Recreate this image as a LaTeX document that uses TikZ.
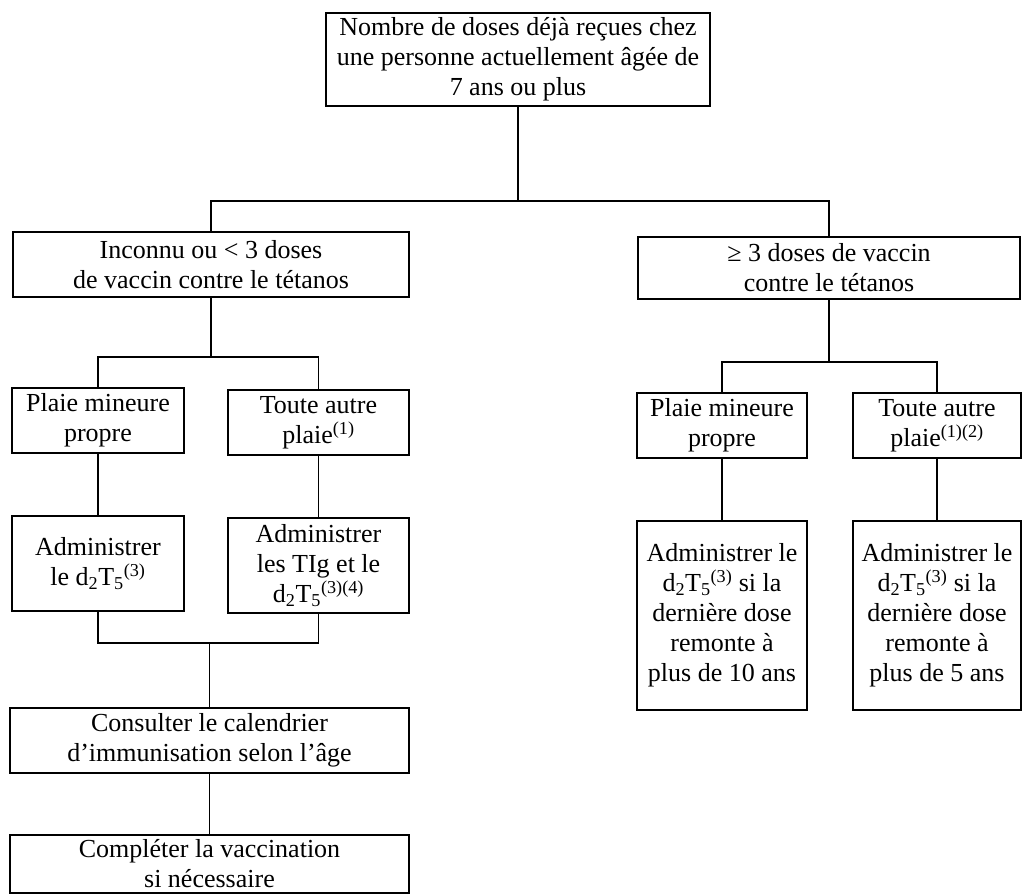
\documentclass[tikz,border=0pt]{standalone}
\usepackage{fontspec}
\setmainfont{Liberation Serif}
\usetikzlibrary{positioning}

\newcommand{\dT}{d\textsubscript{2}T\textsubscript{5}}

\begin{document}
\begin{tikzpicture}[x=1pt, y=-1pt,
		box/.style={rectangle, draw, line width=1.2pt, align=center, inner sep=0pt,
			text=black, font=\fontsize{26}{30}\selectfont},
		link/.style={draw, line width=1.2pt}
]

\useasboundingbox (0,0) rectangle (1023,895);

\node [box, minimum width=384pt, minimum height=93pt] (Root) at (518,59.5)
	{Nombre de doses déjà reçues chez\\une personne actuellement âgée de\\7 ans ou plus};

\node [box, minimum width=396pt, minimum height=65pt] (Unknown) at (211,264.5)
	{Inconnu ou < 3 doses\\de vaccin contre le tétanos};
\node [box, minimum width=382pt, minimum height=62pt] (Known) at (829,268)
	{≥ 3 doses de vaccin\\contre le tétanos};

\node [box, minimum width=172pt, minimum height=65pt] (MinorL) at (98,420.5)
	{Plaie mineure\\propre};
\node [box, minimum width=181pt, minimum height=65pt] (OtherL) at (318.5,422.5)
	{Toute autre\\plaie\textsuperscript{(1)}};
\node [box, minimum width=172pt, minimum height=95pt] (GiveL) at (98,563.5)
	{Administrer\\le \dT\textsuperscript{(3)}};
\node [box, minimum width=181pt, minimum height=95pt] (GiveTIg) at (318.5,565.5)
	{Administrer\\les TIg et le\\\dT\textsuperscript{(3)(4)}};
\node [box, minimum width=399pt, minimum height=65pt] (Calendar) at (209.5,740.5)
	{Consulter le calendrier\\d’immunisation selon l’âge};
\node [box, minimum width=399pt, minimum height=58pt] (Complete) at (209.5,864)
	{Compléter la vaccination\\si nécessaire};

\node [box, minimum width=170pt, minimum height=65pt] (MinorR) at (722,425.5)
	{Plaie mineure\\propre};
\node [box, minimum width=168pt, minimum height=65pt] (OtherR) at (937,425.5)
	{Toute autre\\plaie\textsuperscript{(1)(2)}};
\node [box, minimum width=170pt, minimum height=189pt] (GiveR10) at (722,615.5)
	{Administrer le\\\dT\textsuperscript{(3)} si la\\dernière dose\\remonte à\\plus de 10 ans};
\node [box, minimum width=168pt, minimum height=189pt] (GiveR5) at (937,615.5)
	{Administrer le\\\dT\textsuperscript{(3)} si la\\dernière dose\\remonte à\\plus de 5 ans};

\coordinate (RootFork) at (518,201);
\coordinate (LeftFork) at (211,357);
\coordinate (LeftJoin) at (209.5,643);
\coordinate (RightFork) at (829,362);

\path [link] (Root.south) -- (RootFork);
\path [link] (Unknown.north) |- (RootFork) -| (Known.north);

\path [link] (Unknown.south) -- (LeftFork);
\path [link] (MinorL.north) |- (LeftFork) -| (OtherL.north);
\path [link] (MinorL.south) -- (GiveL.north);
\path [link] (OtherL.south) -- (GiveTIg.north);
\path [link] (GiveL.south) |- (LeftJoin) -| (GiveTIg.south);
\path [link] (LeftJoin) -- (Calendar.north);
\path [link] (Calendar.south) -- (Complete.north);

\path [link] (Known.south) -- (RightFork);
\path [link] (MinorR.north) |- (RightFork) -| (OtherR.north);
\path [link] (MinorR.south) -- (GiveR10.north);
\path [link] (OtherR.south) -- (GiveR5.north);

\end{tikzpicture}
\end{document}
